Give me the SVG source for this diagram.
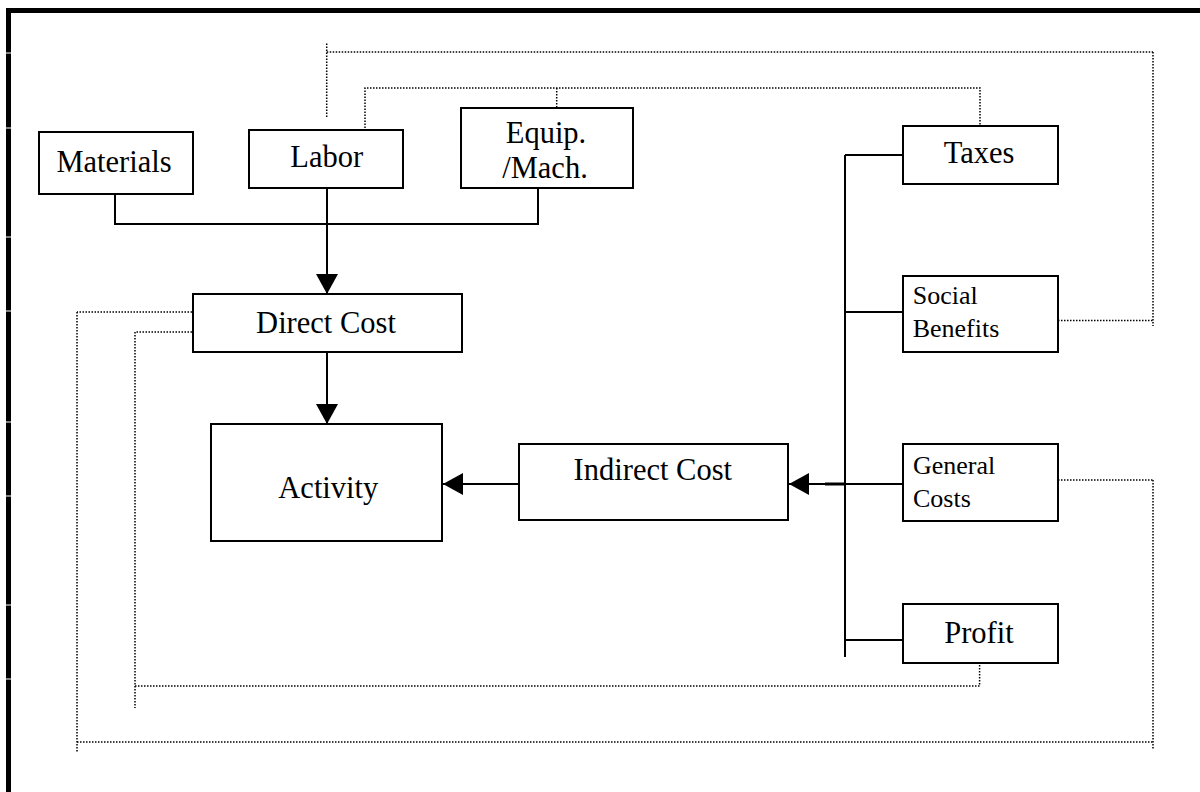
<svg xmlns="http://www.w3.org/2000/svg" width="1200" height="792" viewBox="0 0 1200 792">
<style>
.box{fill:#fff;stroke:#000;stroke-width:2}
.ln{fill:none;stroke:#000;stroke-width:2}
.dot{fill:none;stroke:#000;stroke-width:1.5;stroke-dasharray:1.5 1.5}
.t{font-family:"Liberation Serif","Times New Roman",serif;font-size:30.5px;fill:#000}
.s{font-family:"Liberation Serif","Times New Roman",serif;font-size:26px;fill:#000}
.m{text-anchor:middle}
</style>
<defs>
<marker id="arr" viewBox="0 0 20 22" refX="20" refY="11" markerWidth="20" markerHeight="22" markerUnits="userSpaceOnUse" orient="auto">
<path d="M0,0 L20,11 L0,22 Z" fill="#000"/>
</marker>
</defs>
<rect width="1200" height="792" fill="#fff"/>
<g id="frame">
<rect x="6" y="8" width="1194" height="5" fill="#000"/>
<rect x="6" y="8" width="5" height="784" fill="#000"/>
<g fill="#fff">
<rect x="5" y="52.5" width="7" height="1"/>
<rect x="5" y="127.5" width="7" height="1"/>
<rect x="5" y="236.5" width="7" height="1"/>
<rect x="5" y="310.5" width="7" height="1"/>
<rect x="5" y="421.5" width="7" height="1"/>
<rect x="5" y="495.5" width="7" height="1"/>
<rect x="5" y="604.5" width="7" height="1"/>
<rect x="5" y="678.5" width="7" height="1"/>
</g>
</g>
<g id="connectors">
<path class="ln" d="M115,194 V224 H538 V188"/>
<path class="ln" d="M327,188 V294" marker-end="url(#arr)"/>
<path class="ln" d="M327,352 V424" marker-end="url(#arr)"/>
<path class="ln" d="M519,484 H443" marker-end="url(#arr)"/>
<path class="ln" d="M903,484 H789" marker-end="url(#arr)"/>
<line x1="825" y1="484" x2="846" y2="484" stroke="#000" stroke-width="3"/>
<path class="ln" d="M845,155 V657"/>
<path class="ln" d="M845,155 H903"/>
<path class="ln" d="M845,312 H903"/>
<path class="ln" d="M845,640 H903"/>
<path class="dot" d="M326.7,117 V43"/>
<path class="dot" d="M326.7,52 H1153"/>
<path class="dot" d="M1153,52 V326"/>
<path class="dot" d="M1058,320.5 H1153"/>
<path class="dot" d="M365,128 V88 H980 V126"/>
<path class="dot" d="M556.7,88 V125"/>
<path class="dot" d="M192,312 H77"/>
<path class="dot" d="M77,312 V752"/>
<path class="dot" d="M77,742 H1153"/>
<path class="dot" d="M1153,480 V750"/>
<path class="dot" d="M1058,480 H1153"/>
<path class="dot" d="M192,332 H135"/>
<path class="dot" d="M135,332 V708"/>
<path class="dot" d="M135,686 H979.6 V661"/>
</g>
<g id="materials">
<rect class="box" x="39" y="132" width="154" height="62"/>
<text class="t m" x="114" y="171.5">Materials</text>
</g>
<g id="labor">
<rect class="box" x="249" y="130" width="154" height="58"/>
<text class="t m" x="326.7" y="166.7">Labor</text>
</g>
<g id="equip">
<rect class="box" x="461" y="108" width="172" height="80"/>
<text class="t m" x="546" y="143.3">Equip.</text>
<text class="t m" x="545" y="178.3">/Mach.</text>
</g>
<g id="taxes">
<rect class="box" x="903" y="126" width="155" height="58"/>
<text class="t m" x="979" y="163.3">Taxes</text>
</g>
<g id="social-benefits">
<rect class="box" x="903" y="276" width="155" height="76"/>
<text class="s" x="912.7" y="304">Social</text>
<text class="s" x="912.7" y="337">Benefits</text>
</g>
<g id="general-costs">
<rect class="box" x="903" y="444" width="155" height="77"/>
<text class="s" x="913" y="474.3">General</text>
<text class="s" x="913" y="506.7">Costs</text>
</g>
<g id="profit">
<rect class="box" x="903" y="604" width="155" height="59"/>
<text class="t m" x="979" y="643.3">Profit</text>
</g>
<g id="direct-cost">
<rect class="box" x="193" y="294" width="269" height="58"/>
<text class="t m" x="326" y="332.7">Direct Cost</text>
</g>
<g id="activity">
<rect class="box" x="211" y="424" width="231" height="117"/>
<text class="t m" x="328.3" y="498">Activity</text>
</g>
<g id="indirect-cost">
<rect class="box" x="519" y="444" width="269" height="76"/>
<text class="t m" x="652.8" y="480">Indirect Cost</text>
</g>
</svg>
